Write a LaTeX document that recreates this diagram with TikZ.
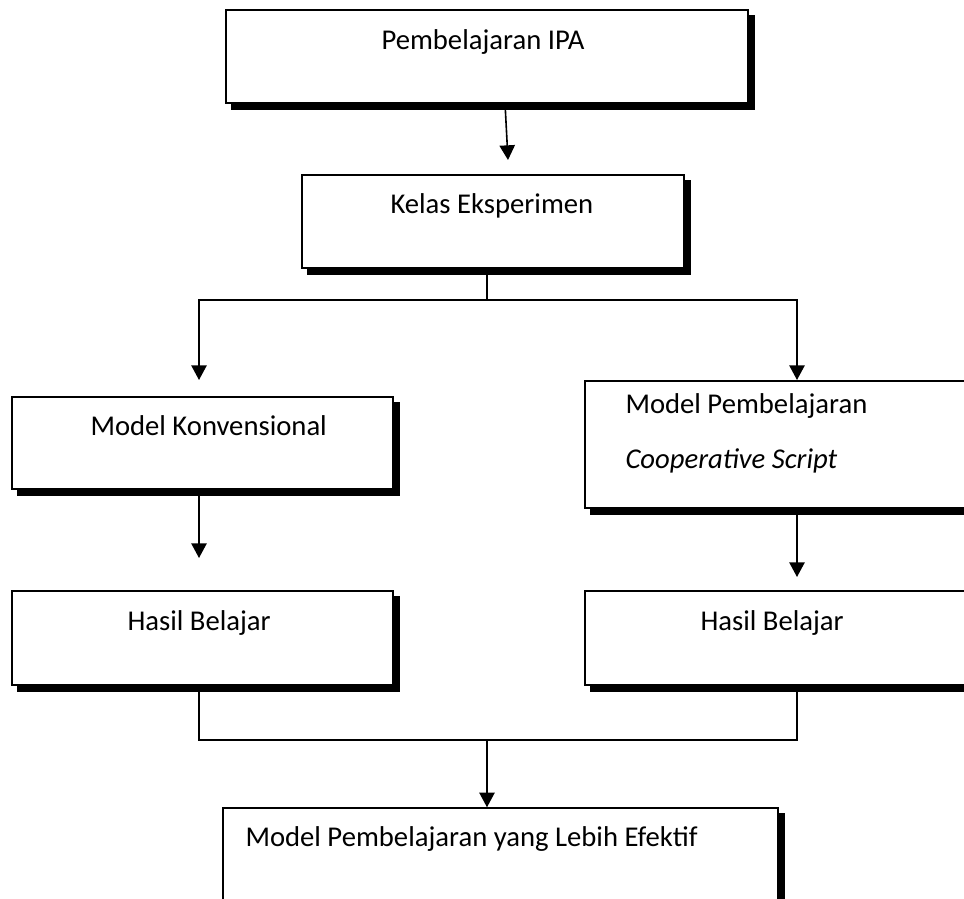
\documentclass[tikz,border=0pt]{standalone}
\usepackage{fontspec}
\setmainfont{Carlito}
\usetikzlibrary{fit,backgrounds,arrows.meta}

\tikzset{every picture/.style={line width=0.75pt}}
\tikzset{
  kotak/.style={draw=black, fill=white, line width=1.1pt, inner sep=0pt},
  teks/.style={inner sep=0pt, anchor=base west, font=\fontsize{21.5}{26}\selectfont},
  garis/.style={line width=1.2pt},
  panah/.style={garis, -{Triangle[width=11.5pt,length=11pt]}},
}

\begin{document}
\begin{tikzpicture}[x=0.75pt,y=0.75pt,yscale=-1,xscale=1]
	\useasboundingbox (0,0) rectangle (964,899);
	\clip (0,0) rectangle (964,899);

	%Shape: Rectangle [Pembelajaran IPA]
	\node [kotak, fit={(226,10) (748,103)}] (ipa) {};
	%Shape: Rectangle [Kelas Eksperimen]
	\node [kotak, fit={(302,175) (684,268)}] (kelas) {};
	%Shape: Rectangle [Model Konvensional]
	\node [kotak, fit={(12,397) (393,489)}] (konv) {};
	%Shape: Rectangle [Model Pembelajaran Cooperative Script]
	\node [kotak, fit={(585,381) (966,508)}] (coop) {};
	%Shape: Rectangle [Hasil Belajar kiri]
	\node [kotak, fit={(12,591) (393,685)}] (hasilkiri) {};
	%Shape: Rectangle [Hasil Belajar kanan]
	\node [kotak, fit={(585,591) (966,685)}] (hasilkanan) {};
	%Shape: Rectangle [Model yang Lebih Efektif]
	\node [kotak, fit={(223,808) (778,915)}] (efektif) {};

	% shadows
	\begin{scope}[on background layer]
		\foreach \k in {ipa,kelas,konv,coop,hasilkiri,hasilkanan,efektif}
			\fill [black] ([shift={(6,6)}]\k.north west) rectangle ([shift={(6,6)}]\k.south east);
	\end{scope}

	% Text Node
	\node [teks] (tipa) at (381,50) {Pembelajaran IPA};
	% Text Node
	\node [teks] (tkelas) at (390,213) {Kelas Eksperimen};
	% Text Node
	\node [teks] (tkonv) at (90,435) {Model Konvensional};
	% Text Node
	\node [teks] (tcoop) at (625,413) {Model Pembelajaran};
	% Text Node
	\node [teks] (tcoop2) at (625,468) {\itshape Cooperative Script};
	% Text Node
	\node [teks] (thasilkiri) at (127,630) {Hasil Belajar};
	% Text Node
	\node [teks] (thasilkanan) at (700,630) {Hasil Belajar};
	% Text Node
	\node [teks] (tefektif) at (245,846) {Model Pembelajaran yang Lebih Efektif};

	% connector points
	\coordinate (a1) at (505,103);
	\coordinate (a1e) at (508,160);
	\coordinate (cabang) at (487,300);
	\coordinate (kiri) at (199,380);
	\coordinate (kanan) at (797,380);
	\coordinate (kiri2) at (199,558);
	\coordinate (kanan2) at (797,577);
	\coordinate (gabungkiri) at (199,740);
	\coordinate (gabungkanan) at (797,740);
	\coordinate (gabung) at (487,740);

	%Straight Lines
	\draw [panah] (a1) -- (a1e);
	%Straight Lines
	\draw [garis] (kelas.south -| cabang) -- (cabang);
	\draw [panah] (cabang) -| (kiri);
	\draw [panah] (cabang) -| (kanan);
	%Straight Lines
	\draw [panah] (konv.south -| kiri2) -- (kiri2);
	\draw [panah] (coop.south -| kanan2) -- (kanan2);
	%Straight Lines
	\draw [garis] (hasilkiri.south -| gabungkiri) -- (gabungkiri) -- (gabungkanan) -- (hasilkanan.south -| gabungkanan);
	\draw [panah] (gabung) -- (efektif.north -| gabung);

\end{tikzpicture}
\end{document}
